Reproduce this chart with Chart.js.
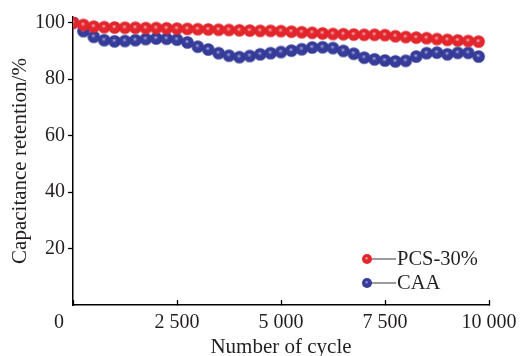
<!DOCTYPE html>
<html>
<head>
<meta charset="utf-8">
<script src="https://cdn.jsdelivr.net/npm/chart.js"></script>
<style>
  html, body { margin: 0; padding: 0; background: #fff; }
  #wrap { width: 520px; height: 356px; }
</style>
</head>
<body>
<div id="wrap"><canvas id="chartCanvas" width="520" height="356"></canvas></div>
<script>
// cycle numbers of the plotted points
const cycles = [0, 250, 500, 750, 1000, 1250, 1500, 1750, 2000, 2250,
    2500, 2750, 3000, 3250, 3500, 3750, 4000, 4250, 4500, 4750,
    5000, 5250, 5500, 5750, 6000, 6250, 6500, 6750, 7000, 7250,
    7500, 7750, 8000, 8250, 8500, 8750, 9000, 9250, 9500, 9750];

// capacitance retention (%)
const pcs30 = [100, 99.2, 98.6, 98.4, 98.3, 98.2, 98.2, 98.1, 98.1, 98.0,
    97.9, 97.8, 97.7, 97.6, 97.5, 97.4, 97.3, 97.2, 97.1, 97.1,
    97.0, 96.8, 96.6, 96.4, 96.2, 96.0, 95.9, 95.8, 95.7, 95.7,
    95.6, 95.2, 94.9, 94.7, 94.5, 94.2, 93.9, 93.7, 93.5, 93.3];
const caa = [100, 97.0, 95.0, 93.8, 93.4, 93.5, 93.8, 94.2, 94.4, 94.3,
    94.0, 93.0, 91.5, 90.5, 89.2, 88.3, 87.8, 88.2, 88.8, 89.2,
    89.6, 90.1, 90.6, 91.2, 91.3, 91.0, 90.0, 89.0, 87.6, 87.0,
    86.6, 86.3, 86.5, 88.0, 89.2, 89.4, 88.8, 89.3, 89.3, 88.0];

const seriesNames = ['PCS-30%', 'CAA'];
const xTicks = [0, 2500, 5000, 7500, 10000];
const xTickLabels = ['0', '2 500', '5 000', '7 500', '10 000'];
const yTicks = [20, 40, 60, 80, 100];

const textColor = '#231f20';
const fontFamily = '"Liberation Serif", "Times New Roman", serif';

// shaded ball used as point marker
function makeBall(r, light, base, dark) {
    const c = document.createElement('canvas');
    c.width = c.height = Math.ceil(r * 2) + 2;
    const g = c.getContext('2d');
    const cx = c.width / 2, cy = c.height / 2;
    const grad = g.createRadialGradient(cx - r * 0.1, cy - r * 0.2, 0, cx, cy, r);
    grad.addColorStop(0, light);
    grad.addColorStop(0.35, base);
    grad.addColorStop(0.9, base);
    grad.addColorStop(1, dark);
    g.fillStyle = grad;
    g.beginPath();
    g.arc(cx, cy, r, 0, Math.PI * 2);
    g.fill();
    return c;
}

const redBall = makeBall(6.3, '#f4c3cb', '#e3262c', '#d42229');
const blueBall = makeBall(6.3, '#b3b7e4', '#363c99', '#2c318a');
const redBallSmall = makeBall(5, '#f4c3cb', '#e3262c', '#d42229');
const blueBallSmall = makeBall(5, '#b3b7e4', '#363c99', '#2c318a');

// legend of the form  ●— name  drawn inside the plot
const insideLegend = {
    id: 'insideLegend',
    afterDraw(chart) {
        const ctx = chart.ctx;
        const area = chart.chartArea;
        const balls = [redBallSmall, blueBallSmall];
        ctx.save();
        ctx.font = '20.5px ' + fontFamily;
        ctx.fillStyle = textColor;
        ctx.textBaseline = 'middle';
        seriesNames.forEach(function (name, i) {
            const x = area.right - 122;
            const y = area.bottom - 46 + i * 24;
            ctx.strokeStyle = '#7a7a7a';
            ctx.lineWidth = 1.5;
            ctx.beginPath();
            ctx.moveTo(x + 4, y);
            ctx.lineTo(x + 29, y);
            ctx.stroke();
            ctx.drawImage(balls[i], x - balls[i].width / 2, y - balls[i].height / 2);
            ctx.fillText(name, x + 30, y + 1);
        });
        ctx.restore();
    }
};

// the origin label sits left of the axis corner
const originLabel = {
    id: 'originLabel',
    afterDraw(chart) {
        const ctx = chart.ctx;
        const xs = chart.scales.x;
        ctx.save();
        ctx.font = '20px ' + fontFamily;
        ctx.fillStyle = textColor;
        ctx.textAlign = 'center';
        ctx.textBaseline = 'middle';
        ctx.fillText(xTickLabels[0], xs.getPixelForValue(xTicks[0]) - 14, xs.top + 18);
        ctx.restore();
    }
};

const ctx = document.getElementById('chartCanvas').getContext('2d');
new Chart(ctx, {
    type: 'line',
    data: {
        datasets: [{
            label: seriesNames[0],
            data: cycles.map(function (c, i) { return { x: c, y: pcs30[i] }; }),
            showLine: false,
            pointStyle: redBall,
            pointRadius: 6,
            borderColor: '#e3262c',
            backgroundColor: '#e3262c'
        }, {
            label: seriesNames[1],
            data: cycles.map(function (c, i) { return { x: c, y: caa[i] }; }),
            showLine: false,
            pointStyle: blueBall,
            pointRadius: 6,
            borderColor: '#363c99',
            backgroundColor: '#363c99'
        }]
    },
    options: {
        responsive: false,
        animation: false,
        devicePixelRatio: 1,
        layout: {
            padding: { top: 17, right: 31, bottom: 0, left: 0 }
        },
        plugins: {
            legend: { display: false },
            tooltip: { enabled: false }
        },
        scales: {
            x: {
                type: 'linear',
                min: 0,
                max: 10000,
                afterBuildTicks: function (scale) {
                    scale.ticks = xTicks.map(function (v) { return { value: v }; });
                },
                afterFit: function (scale) {
                    scale.height = 51;
                    scale.paddingLeft = 0;
                    scale.paddingRight = 0;
                },
                border: { color: '#000', width: 1.5 },
                grid: {
                    drawOnChartArea: false,
                    tickLength: -5,
                    tickWidth: 1.3,
                    tickColor: '#000'
                },
                ticks: {
                    padding: 11,
                    maxRotation: 0,
                    autoSkip: false,
                    color: textColor,
                    font: { family: fontFamily, size: 20 },
                    callback: function (value) {
                        const i = xTicks.indexOf(value);
                        return i > 0 ? xTickLabels[i] : '';
                    }
                },
                title: {
                    display: true,
                    text: 'Number of cycle',
                    color: textColor,
                    font: { family: fontFamily, size: 21, lineHeight: 0.8 },
                    padding: 0
                }
            },
            y: {
                min: 0,
                max: 102,
                afterBuildTicks: function (scale) {
                    scale.ticks = yTicks.map(function (v) { return { value: v }; });
                },
                afterFit: function (scale) {
                    scale.width = 73;
                    scale.paddingTop = 0;
                    scale.paddingBottom = 0;
                },
                border: { color: '#000', width: 1.5 },
                grid: {
                    drawOnChartArea: false,
                    tickLength: 5,
                    tickWidth: 1.3,
                    tickColor: '#000'
                },
                ticks: {
                    padding: 3,
                    color: textColor,
                    font: { family: fontFamily, size: 20 }
                },
                title: {
                    display: true,
                    text: 'Capacitance retention/%',
                    color: textColor,
                    font: { family: fontFamily, size: 21, lineHeight: 1.2 },
                    padding: { top: 8, bottom: 0 }
                }
            }
        }
    },
    plugins: [insideLegend, originLabel]
});
</script>
</body>
</html>
